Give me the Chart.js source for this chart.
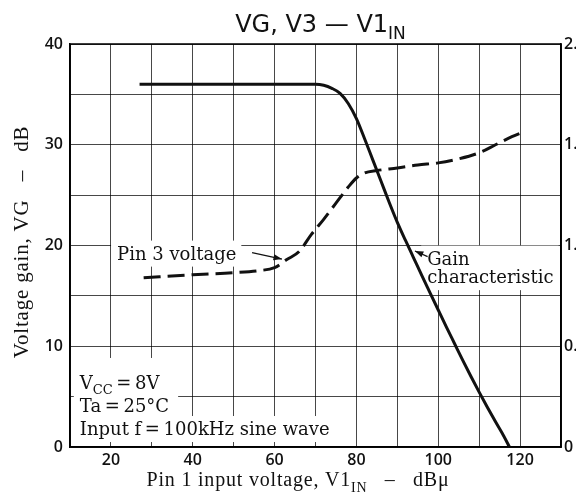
<!DOCTYPE html>
<html>
<head>
<meta charset="utf-8">
<script src="https://cdn.jsdelivr.net/npm/chart.js@4.4.1/dist/chart.umd.min.js"></script>
<style>
  html, body { margin: 0; padding: 0; background: #fff; overflow: hidden; }
  #wrap { width: 576px; height: 496px; }
</style>
</head>
<body>
<div id="wrap"><canvas id="chart" width="576" height="496"></canvas></div>
<script>
  // Gain characteristic, left axis (dB)
  const gainX = [27, 40, 55, 66, 70, 72, 74, 76, 78, 80, 82, 84, 86, 88, 90, 92, 94, 96, 98, 100, 102, 104, 106, 108, 110, 112, 114, 116, 117.4];
  const gainY = [36, 36, 36, 36, 36, 35.9, 35.6, 35.1, 34.1, 32.6, 30.6, 28.5, 26.4, 24.3, 22.3, 20.5, 18.75, 17.0, 15.3, 13.6, 11.9, 10.25, 8.6, 7.0, 5.45, 3.95, 2.5, 1.1, 0];

  // Pin 3 voltage, right axis (V)
  const pin3X = [28, 40, 50, 56, 60, 63, 66, 69, 72, 75, 78, 80, 82, 85, 90, 95, 100, 105, 110, 114, 118, 121];
  const pin3V = [0.84, 0.855, 0.865, 0.875, 0.89, 0.93, 0.97, 1.055, 1.13, 1.21, 1.29, 1.335, 1.36, 1.372, 1.385, 1.40, 1.41, 1.43, 1.46, 1.50, 1.54, 1.565];

  // tick labels
  const xLabels  = [20, 40, 60, 80, 100, 120];
  const yLabels  = [0, 10, 20, 30, 40];
  const y2Labels = { 0: '0', 0.5: '0.5', 1: '1.0', 1.5: '1.5', 2: '2.0' };

  const SERIF  = '"DejaVu Serif", serif';
  const TIMES  = '"Liberation Serif", "Times New Roman", serif';
  const SANS   = '"DejaVu Sans", sans-serif';
  const GRID   = 'rgba(0,0,0,0.72)';
  const INK    = '#111';
  const TS     = '\u2009';

  // text drawn on the plot, placed in data units
  const notes = [
    { x: 21.5, y: 18.6, lines: [[{ t: 'Pin 3 voltage' }]] },
    { x: 97.3, y: 18.1, lines: [[{ t: 'Gain' }], [{ t: 'characteristic' }]], step: 18.5 },
    { x: 12.4, y: 5.76, lines: [[{ t: 'V' }, { t: 'CC', sub: true }, { t: TS + '=' + TS + '8V' }], [{ t: 'Ta' + TS + '=' + TS + '25°C' }]], step: 23, padTop: 31, padRight: 9 },
    { x: 12.4, y: 1.19, lines: [[{ t: 'Input f' + TS + '=' + TS + '100kHz sine wave' }]] }
  ];
  const arrows = [
    { from: [54.5, 19.3], to: [61.8, 18.65] },
    { from: [97.4, 18.9], to: [94.3, 19.45] }
  ];

  function partFont(p, size) {
    return (p.sub ? Math.round(size * 0.72) : size) + 'px ' + (p.family || SERIF);
  }
  function richWidth(ctx, parts, size) {
    let w = 0;
    parts.forEach(p => { ctx.font = partFont(p, size); w += ctx.measureText(p.t).width; });
    return w;
  }
  function drawRich(ctx, parts, x, y, size, align) {
    const w = richWidth(ctx, parts, size);
    let cx = align === 'center' ? x - w / 2 : x;
    parts.forEach(p => {
      ctx.font = partFont(p, size);
      ctx.fillText(p.t, cx, y + (p.sub ? size * 0.28 : 0));
      cx += ctx.measureText(p.t).width;
    });
    return w;
  }

  const overlay = {
    id: 'overlay',
    beforeDatasetsDraw(chart) {
      // white patches behind the labels
      const { ctx, scales: { x, y } } = chart;
      ctx.save();
      ctx.fillStyle = '#fff';
      notes.forEach(n => {
        const px = x.getPixelForValue(n.x), py = y.getPixelForValue(n.y);
        const step = n.step || 20;
        let w = 0;
        n.lines.forEach(l => { w = Math.max(w, richWidth(ctx, l, 18)); });
        const top = py - (n.padTop || 19), bottom = py + (n.lines.length - 1) * step + 7;
        ctx.fillRect(px - 6, top, w + 6 + (n.padRight || 5), bottom - top);
      });
      ctx.restore();
    },
    afterDatasetsDraw(chart) {
      const { ctx, chartArea: a, scales: { x, y } } = chart;
      ctx.save();
      // frame
      ctx.strokeStyle = '#000';
      ctx.lineWidth = 1.5;
      ctx.strokeRect(a.left, a.top, a.right - a.left, a.bottom - a.top);

      ctx.fillStyle = INK;
      ctx.textBaseline = 'alphabetic';
      ctx.textAlign = 'left';
      notes.forEach(n => {
        const px = x.getPixelForValue(n.x), py = y.getPixelForValue(n.y);
        n.lines.forEach((l, i) => drawRich(ctx, l, px, py + i * (n.step || 20), 18));
      });

      // arrows
      ctx.strokeStyle = INK;
      ctx.lineWidth = 1.2;
      arrows.forEach(ar => {
        const x1 = x.getPixelForValue(ar.from[0]), y1 = y.getPixelForValue(ar.from[1]);
        const x2 = x.getPixelForValue(ar.to[0]),   y2 = y.getPixelForValue(ar.to[1]);
        const ang = Math.atan2(y2 - y1, x2 - x1);
        ctx.beginPath(); ctx.moveTo(x1, y1); ctx.lineTo(x2, y2); ctx.stroke();
        ctx.beginPath();
        ctx.moveTo(x2, y2);
        ctx.lineTo(x2 - 9 * Math.cos(ang - 0.35), y2 - 9 * Math.sin(ang - 0.35));
        ctx.lineTo(x2 - 9 * Math.cos(ang + 0.35), y2 - 9 * Math.sin(ang + 0.35));
        ctx.closePath(); ctx.fill();
      });

      // title
      const cx = (a.left + a.right) / 2 + 5;
      drawRich(ctx, [
        { t: 'VG, V3 — V1', family: SANS },
        { t: 'IN', family: SANS, sub: true }
      ], cx, 32, 24, 'center');

      // axis titles
      ctx.letterSpacing = '0.8px';
      drawRich(ctx, [
        { t: 'Pin 1 input voltage, V1', family: TIMES },
        { t: 'IN', family: TIMES, sub: true },
        { t: '   –   dBμ', family: TIMES }
      ], 298, 486, 20, 'center');

      ctx.translate(22, 242);
      ctx.rotate(-Math.PI / 2);
      ctx.textAlign = 'center';
      ctx.textBaseline = 'middle';
      ctx.font = '21px ' + TIMES;
      ctx.fillText('Voltage gain, VG   –   dB', 0, 0);
      ctx.restore();
    }
  };

  const tickFont = { family: '"Open Sans", sans-serif', size: 16, weight: '600' };

  new Chart(document.getElementById('chart'), {
    type: 'scatter',
    data: {
      datasets: [
        {
          label: 'Gain characteristic',
          data: gainX.map((v, i) => ({ x: v, y: gainY[i] })),
          yAxisID: 'y',
          showLine: true,
          borderColor: INK,
          borderWidth: 3,
          pointRadius: 0,
          cubicInterpolationMode: 'monotone'
        },
        {
          label: 'Pin 3 voltage',
          data: pin3X.map((v, i) => ({ x: v, y: pin3V[i] })),
          yAxisID: 'y2',
          showLine: true,
          borderColor: INK,
          borderWidth: 3,
          borderDash: [17, 7],
          pointRadius: 0,
          cubicInterpolationMode: 'monotone'
        }
      ]
    },
    options: {
      responsive: false,
      animation: false,
      layout: { padding: { top: 44, left: 0, right: 0, bottom: 0 } },
      plugins: { legend: { display: false }, tooltip: { enabled: false } },
      scales: {
        x: {
          type: 'linear', min: 10, max: 130,
          ticks: {
            stepSize: 10, autoSkip: false, maxRotation: 0, padding: 4,
            color: INK, font: tickFont,
            callback: v => xLabels.includes(v) ? String(v) : ''
          },
          grid: { color: GRID, lineWidth: 1, drawTicks: false },
          border: { color: '#000', width: 1.5 },
          afterFit: s => { s.height = 49; }
        },
        y: {
          min: 0, max: 40,
          ticks: {
            stepSize: 5, autoSkip: false, padding: 7,
            color: INK, font: tickFont,
            callback: v => yLabels.includes(v) ? String(v) : ''
          },
          grid: { color: GRID, lineWidth: 1, drawTicks: false },
          border: { color: '#000', width: 1.5 },
          afterFit: s => { s.width = 70; }
        },
        y2: {
          position: 'right', min: 0, max: 2,
          ticks: {
            stepSize: 0.5, autoSkip: false, padding: 3,
            color: INK, font: tickFont,
            callback: v => y2Labels[v] !== undefined ? y2Labels[v] : ''
          },
          grid: { display: false, drawTicks: false },
          border: { color: '#000', width: 1.5 },
          afterFit: s => { s.width = 15; }
        }
      }
    },
    plugins: [overlay]
  });
</script>
</body>
</html>
